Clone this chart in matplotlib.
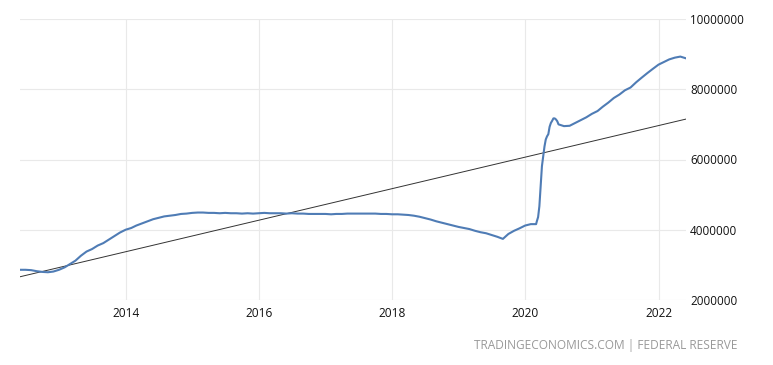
import matplotlib
matplotlib.use("Agg")
import matplotlib.pyplot as plt
import matplotlib.dates as mdates
import numpy as np
import pandas as pd

# Fed balance sheet (total assets), USD trillions
# monthly, Jun 2012 .. Feb 2020 (month-end)
early_values = [
    2.86, 2.86, 2.85, 2.82, 2.80, 2.79, 2.81, 2.86,                    # 2012 May-Dec
    2.93, 3.02, 3.12, 3.26, 3.38, 3.45, 3.55, 3.62, 3.72, 3.82, 3.92, 4.00,  # 2013
    4.05, 4.12, 4.18, 4.24, 4.30, 4.34, 4.38, 4.40, 4.42, 4.45, 4.46, 4.48,  # 2014
    4.49, 4.49, 4.48, 4.48, 4.47, 4.48, 4.47, 4.47, 4.46, 4.47, 4.46, 4.47,  # 2015
    4.48, 4.47, 4.47, 4.47, 4.46, 4.47, 4.46, 4.46, 4.45, 4.45, 4.45, 4.45,  # 2016
    4.44, 4.45, 4.45, 4.46, 4.46, 4.46, 4.46, 4.46, 4.46, 4.45, 4.45, 4.44,  # 2017
    4.44, 4.43, 4.42, 4.40, 4.37, 4.33, 4.29, 4.24, 4.20, 4.16, 4.12, 4.08,  # 2018
    4.05, 4.02, 3.97, 3.93, 3.90, 3.85, 3.80, 3.74, 3.88, 3.97, 4.04, 4.12,  # 2019
    4.16, 4.16,                                                          # 2020 Jan-Feb
]
early_dates = pd.date_range("2012-05-31", periods=len(early_values), freq="ME")

# weekly, Mar 4 .. Jul 1 2020
covid_values = [4.24, 4.36, 4.67, 5.25, 5.81, 6.08, 6.37, 6.57, 6.66,
                6.72, 6.93, 7.04, 7.10, 7.17, 7.17, 7.14, 7.09, 7.00]
covid_dates = pd.date_range("2020-03-04", periods=len(covid_values), freq="7D")

# monthly, Jul 2020 .. May 2022
late_values = [
    6.95, 6.96, 7.04, 7.12, 7.20, 7.30,                                  # 2020 Jul-Dec
    7.38, 7.50, 7.62, 7.75, 7.85, 7.97, 8.05, 8.20, 8.33, 8.46, 8.58, 8.70,  # 2021
    8.78, 8.85, 8.90, 8.93, 8.88,                                        # 2022 Jan-May
]
late_dates = pd.date_range("2020-07-31", periods=len(late_values), freq="ME")

dates = early_dates.append(covid_dates).append(late_dates)
values = np.array(early_values + covid_values + late_values) * 1e6

yticks = [2000000, 4000000, 6000000, 8000000, 10000000]
years = [2014, 2016, 2018, 2020, 2022]

plt.rcParams["font.family"] = ["Open Sans", "DejaVu Sans"]

fig = plt.figure(figsize=(7.73, 3.65), dpi=100)
ax = fig.add_axes([20 / 773, 1 - 300 / 365, 666 / 773, 281 / 365])

ax.plot(dates, values, color="#4f7cb5", lw=1.5, zorder=3)

# linear trend
xnum = mdates.date2num(dates)
k, b = np.polyfit(xnum, values, 1)
ends = np.array([xnum[0], xnum[-1]])
ax.plot(mdates.num2date(ends), k * ends + b, color="#333333", lw=0.7, zorder=2)

ax.set_xlim(dates[0], dates[-1])
ax.set_ylim(yticks[0], yticks[-1])
ax.set_yticks(yticks)
ax.set_yticklabels([str(v) for v in yticks])
ax.set_xticks([pd.Timestamp(f"{y}-01-01") for y in years])
ax.set_xticklabels([str(y) for y in years])

ax.yaxis.tick_right()
ax.tick_params(axis="y", length=0, pad=3, labelsize=8.4, colors="#111111")
ax.tick_params(axis="x", length=0, pad=5, labelsize=8.6, colors="#111111")
ax.grid(True, color="#e9e9e9", lw=0.8)
for s in ax.spines.values():
    s.set_visible(False)

fig.text(737 / 773, 1 - 346 / 365, "TRADINGECONOMICS.COM | FEDERAL RESERVE",
         ha="right", va="center", fontsize=8.6, color="#999999")

fig.savefig("out.png", dpi=100)
